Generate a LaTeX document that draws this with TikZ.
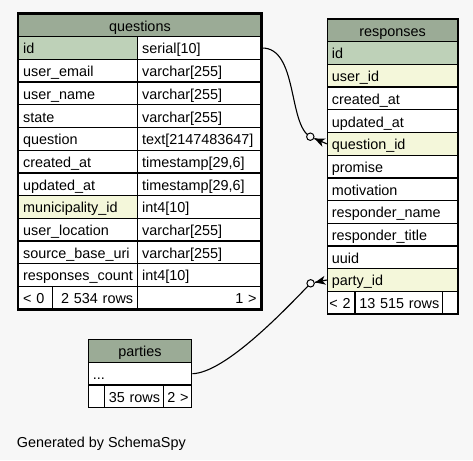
\documentclass[tikz,border=0pt]{standalone}
\usepackage{fontspec}
\setmainfont{Liberation Sans}
\usetikzlibrary{calc}

\definecolor{canvas}{HTML}{F7F7F7}
\definecolor{headbg}{HTML}{9BAB96}
\definecolor{keybg}{HTML}{BED1B8}
\definecolor{fkbg}{HTML}{F4F7DA}

\tikzset{
  cell/.style={draw=black, line width=1.3pt, fill=white, anchor=north west,
    inner xsep=4.5pt, inner ysep=0pt, text height=11.9pt, text depth=0pt,
    minimum height=22.7pt, align=left, text width=#1},
  rcell/.style={cell=#1, align=right},
  hcell/.style={cell=#1, align=center, fill=headbg},
  relation/.style={line width=1.1pt},
}

% optional-one-to-many end: open circle followed by a crow's foot
\newcommand\crowfoot[2]{%
  \coordinate (cfA) at ($(#1)!4.5pt!(#2)$);
  \coordinate (cfB) at ($(#1)!15pt!(#2)$);
  \coordinate (cfN) at ($(#1)!12pt!(#2)$);
  \coordinate (cfU) at ($(cfB)!4.5pt!90:(#2)$);
  \coordinate (cfL) at ($(cfB)!4.5pt!-90:(#2)$);
  \fill (cfA) -- (cfU) -- (cfN) -- (cfL) -- cycle;
  \draw[line width=1.2pt] (cfA) -- (#2);
  \draw[line width=1pt, fill=canvas] (#1) circle (3.7pt);
}

\begin{document}
\begin{tikzpicture}[x=1pt, y=-1pt, font=\fontsize{14.4}{17}\selectfont]
\fill[canvas] (0,0) rectangle (473,460);
\useasboundingbox (0,0) rectangle (473,460);

% ---- questions ----
\node[hcell=233.5pt] (qh) at (18,13.3) {questions};
\node[cell=110pt, fill=keybg] (q1) at (18,36) {id};
\node[cell=114.5pt] (t1) at (137,36) {serial[10]};
\node[cell=110pt] (q2) at (18,58.7) {user\_email};
\node[cell=114.5pt] (t2) at (137,58.7) {varchar[255]};
\node[cell=110pt] (q3) at (18,81.4) {user\_name};
\node[cell=114.5pt] (t3) at (137,81.4) {varchar[255]};
\node[cell=110pt] (q4) at (18,104.1) {state};
\node[cell=114.5pt] (t4) at (137,104.1) {varchar[255]};
\node[cell=110pt] (q5) at (18,126.8) {question};
\node[cell=114.5pt] (t5) at (137,126.8) {text[2147483647]};
\node[cell=110pt] (q6) at (18,149.5) {created\_at};
\node[cell=114.5pt] (t6) at (137,149.5) {timestamp[29,6]};
\node[cell=110pt] (q7) at (18,172.2) {updated\_at};
\node[cell=114.5pt] (t7) at (137,172.2) {timestamp[29,6]};
\node[cell=110pt, fill=fkbg] (q8) at (18,194.9) {municipality\_id};
\node[cell=114.5pt] (t8) at (137,194.9) {int4[10]};
\node[cell=110pt] (q9) at (18,217.6) {user\_location};
\node[cell=114.5pt] (t9) at (137,217.6) {varchar[255]};
\node[cell=110pt] (q10) at (18,240.3) {source\_base\_uri};
\node[cell=114.5pt] (t10) at (137,240.3) {varchar[255]};
\node[cell=110pt] (q11) at (18,263.0) {responses\_count};
\node[cell=114.5pt] (t11) at (137,263.0) {int4[10]};
\node[cell=25pt] (qf1) at (18,285.7) {<~0};
\node[rcell=76pt] (qf2) at (52,285.7) {2~534~rows};
\node[rcell=114.5pt] (qf3) at (137,285.7) {1~>};
\draw[line width=2.7pt] (qh.north west) rectangle (qf3.south east);

% ---- responses ----
\node[hcell=121.6pt] (rh) at (326.7,18.3) {responses};
\node[cell=121.6pt, fill=keybg] (r1) at (326.7,41) {id};
\node[cell=121.6pt, fill=fkbg] (r2) at (326.7,63.7) {user\_id};
\node[cell=121.6pt] (r3) at (326.7,86.4) {created\_at};
\node[cell=121.6pt] (r4) at (326.7,109.1) {updated\_at};
\node[cell=121.6pt, fill=fkbg] (r5) at (326.7,131.8) {question\_id};
\node[cell=121.6pt] (r6) at (326.7,154.5) {promise};
\node[cell=121.6pt] (r7) at (326.7,177.2) {motivation};
\node[cell=121.6pt] (r8) at (326.7,199.9) {responder\_name};
\node[cell=121.6pt] (r9) at (326.7,222.6) {responder\_title};
\node[cell=121.6pt] (r10) at (326.7,245.3) {uuid};
\node[cell=121.6pt, fill=fkbg] (r11) at (326.7,268.0) {party\_id};
\node[cell=23.6pt, inner xsep=2pt] (rf1) at (326.7,290.7) {<~2};
\node[rcell=81.4pt, inner xsep=3pt] (rf2) at (354.3,290.7) {13~515~rows};
\node[cell=6.6pt] (rf3) at (441.7,290.7) {};

% ---- parties ----
\node[hcell=94.3pt] (ph) at (87.7,339) {parties};
\node[cell=94.3pt] (p1) at (87.7,361.7) {...};
\node[cell=7pt] (pf1) at (87.7,384.4) {};
\node[rcell=50pt] (pf2) at (103.7,384.4) {35~rows};
\node[rcell=22.3pt, inner xsep=3pt] (pf3) at (162.7,384.4) {2~>};

% ---- relationships ----
\coordinate (k1) at (310.3,136.7);
\coordinate (k2) at (310.6,283.3);
\draw[relation] (t1.east) .. controls (298,47.4) and (288,125) .. (k1);
\crowfoot{k1}{r5.west}
\draw[relation] (p1.east) .. controls (225,373) and (285,310) .. (k2);
\crowfoot{k2}{r11.west}

\node[anchor=base west, inner sep=0pt] (gen) at (16.7,447) {Generated by SchemaSpy};
\end{tikzpicture}
\end{document}
